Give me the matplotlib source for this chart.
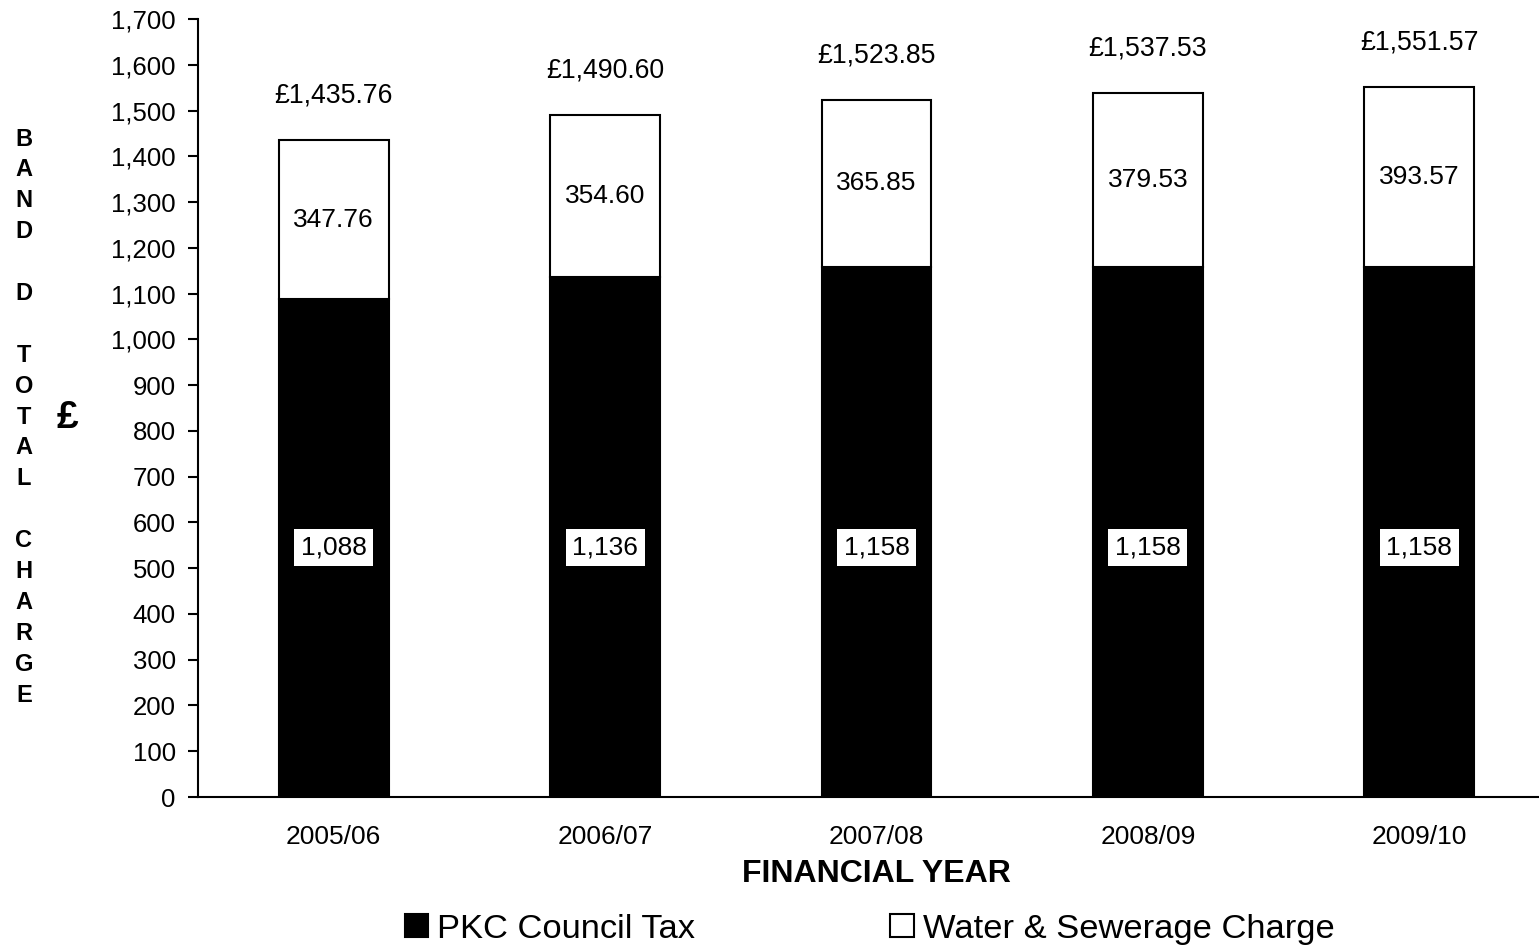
#!/usr/bin/env python3
import numpy as np
import matplotlib
matplotlib.use("Agg")
import matplotlib.pyplot as plt
from matplotlib.ticker import FuncFormatter

# Band D charge per financial year, split into the two components
years = ["2005/06", "2006/07", "2007/08", "2008/09", "2009/10"]
council_tax = [1088, 1136, 1158, 1158, 1158]
water_sewerage = [347.76, 354.60, 365.85, 379.53, 393.57]

plt.rcParams["font.family"] = ["Liberation Sans", "DejaVu Sans"]

W, H = 1539, 947
fig = plt.figure(figsize=(W / 100, H / 100), dpi=100)
ax = fig.add_axes([198 / W, 150 / H, (1555 - 198) / W, 778 / H])

x = np.arange(len(years))
totals = np.array(council_tax) + np.array(water_sewerage)
bw = 0.405

b1 = ax.bar(x, council_tax, bw, color="black", edgecolor="black", linewidth=1.5,
            label="PKC Council Tax")
b2 = ax.bar(x, water_sewerage, bw, bottom=council_tax, color="white",
            edgecolor="black", linewidth=1.5, label="Water & Sewerage Charge")

# value labels
for i in range(len(years)):
    ax.text(x[i], 545, f"{council_tax[i]:,}", ha="center", va="center", fontsize=19,
            bbox=dict(facecolor="white", edgecolor="none", boxstyle="square,pad=0.25"))
    ax.text(x[i], council_tax[i] + water_sewerage[i] / 2, f"{water_sewerage[i]:.2f}",
            ha="center", va="center", fontsize=19)
    ax.text(x[i], totals[i] + 97, f"£{totals[i]:,.2f}", ha="center", va="center",
            fontsize=19.2)

ax.set_xlim(-0.5, 4.5)
ax.set_ylim(0, 1700)
ax.set_yticks(np.arange(0, 1701, 100))
ax.yaxis.set_major_formatter(FuncFormatter(lambda v, p: f"{int(v):,}"))
ax.set_xticks(x)
ax.set_xticklabels(years)
ax.tick_params(axis="y", length=7, width=1.5, labelsize=18.5, pad=9)
ax.tick_params(axis="x", length=0, labelsize=19, pad=20)
for s in ["top", "right"]:
    ax.spines[s].set_visible(False)
for s in ["left", "bottom"]:
    ax.spines[s].set_linewidth(1.5)

fig.text(876 / W, 1 - 874 / H, "FINANCIAL YEAR", ha="center", va="center",
         fontsize=23, fontweight="bold")

# stacked vertical y label
label = "BAND D TOTAL CHARGE"
for i, ch in enumerate(label):
    if ch == " ":
        continue
    fig.text(24 / W, 1 - (139 + i * 30.9) / H, ch, ha="center", va="center",
             fontsize=17, fontweight="bold")
fig.text(67 / W, 1 - 418 / H, "£", ha="center", va="center", fontsize=28,
         fontweight="bold")

fig.legend(handles=[b1, b2], loc="center", bbox_to_anchor=(869.5 / W, 1 - 929 / H),
           ncol=2, frameon=False, fontsize=24.8, handlelength=0.68, handleheight=0.68,
           handletextpad=0.26, columnspacing=5.67, borderpad=0, borderaxespad=0)

plt.savefig("out.png", dpi=100)
